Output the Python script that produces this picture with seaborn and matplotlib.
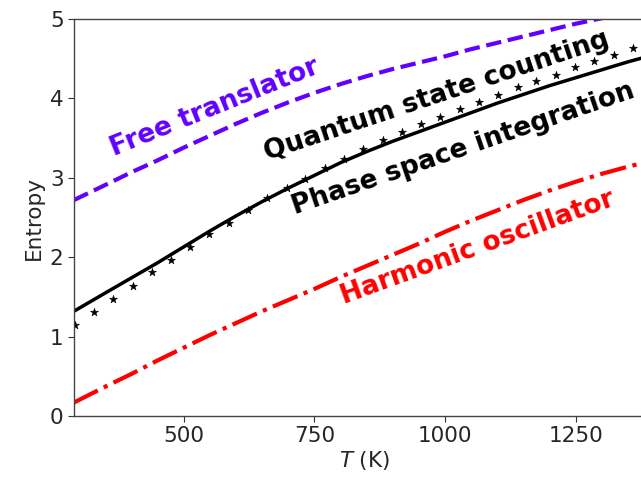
import matplotlib
matplotlib.use("Agg")
import matplotlib.pyplot as plt
import seaborn as sns

# temperature grid (K) for the smooth curves
temps = [290, 350, 400, 450, 500, 550, 600, 650, 700, 750, 800, 850,
         900, 950, 1000, 1050, 1100, 1150, 1200, 1250, 1300, 1350, 1400]

free_translator = [2.72, 2.91, 3.07, 3.22, 3.38, 3.53, 3.68, 3.82, 3.95, 4.07,
                   4.18, 4.28, 4.37, 4.45, 4.53, 4.62, 4.70, 4.78, 4.86, 4.94,
                   5.01, 5.08, 5.15]
phase_space = [1.32, 1.55, 1.74, 1.93, 2.13, 2.33, 2.52, 2.70, 2.87, 3.03,
               3.19, 3.33, 3.46, 3.58, 3.70, 3.82, 3.94, 4.05, 4.16, 4.26,
               4.36, 4.46, 4.55]
harmonic = [0.17, 0.37, 0.53, 0.70, 0.86, 1.02, 1.17, 1.32, 1.46, 1.60,
            1.75, 1.89, 2.03, 2.17, 2.32, 2.46, 2.59, 2.72, 2.84, 2.95,
            3.05, 3.14, 3.22]

# quantum state counting (star markers)
quantum_T = [291, 328, 365, 402, 439, 475, 512, 549, 586, 623,
             660, 697, 733, 770, 807, 844, 881, 918, 954, 991,
             1028, 1065, 1102, 1139, 1175, 1212, 1249, 1286, 1323, 1360]
quantum_S = [1.15, 1.31, 1.47, 1.64, 1.81, 1.97, 2.13, 2.29, 2.43, 2.59,
             2.74, 2.87, 2.99, 3.12, 3.24, 3.36, 3.47, 3.58, 3.68, 3.77,
             3.87, 3.96, 4.04, 4.14, 4.22, 4.30, 4.39, 4.47, 4.55, 4.63]

BLUE = "#6200ff"
RED = "#ff0000"

sns.set_style("ticks")
plt.rcParams["font.family"] = ["DejaVu Sans"]

fig = plt.figure(figsize=(6.41, 4.79), dpi=100)
ax = fig.add_axes([74 / 641, 63 / 479, 580 / 641, 397 / 479])

sns.lineplot(x=temps, y=free_translator, ax=ax, color=BLUE, lw=3, linestyle="--")
sns.lineplot(x=temps, y=phase_space, ax=ax, color="black", lw=2.5)
sns.lineplot(x=temps, y=harmonic, ax=ax, color=RED, lw=3, linestyle="-.")
sns.scatterplot(x=quantum_T, y=quantum_S, ax=ax, marker="*", color="black",
                s=36, edgecolor="black", linewidth=0.4)

ax.set_xlim(290, 1400)
ax.set_ylim(0, 5)
ax.set_xticks([500, 750, 1000, 1250])
ax.set_yticks([0, 1, 2, 3, 4, 5])
ax.tick_params(labelsize=15.5, direction="out", length=4, width=0.8, color="#333333")
ax.set_xlabel("$T$ (K)", fontsize=15.5, labelpad=2)
ax.set_ylabel("Entropy", fontsize=15.5, labelpad=4)
for side in ("left", "bottom", "top", "right"):
    ax.spines[side].set_color("#444444")
    ax.spines[side].set_linewidth(1.0)

label_kw = dict(ha="center", va="center", fontsize=19, fontweight="bold",
                rotation_mode="anchor")
ax.text(559, 3.88, "Free translator", color=BLUE, rotation=22, **label_kw)
ax.text(984, 4.03, "Quantum state counting", color="black", rotation=18.5, **label_kw)
ax.text(1034, 3.36, "Phase space integration", color="black", rotation=19, **label_kw)
ax.text(1063, 2.12, "Harmonic oscillator", color=RED, rotation=20, **label_kw)

fig.savefig("out.png", dpi=100)
